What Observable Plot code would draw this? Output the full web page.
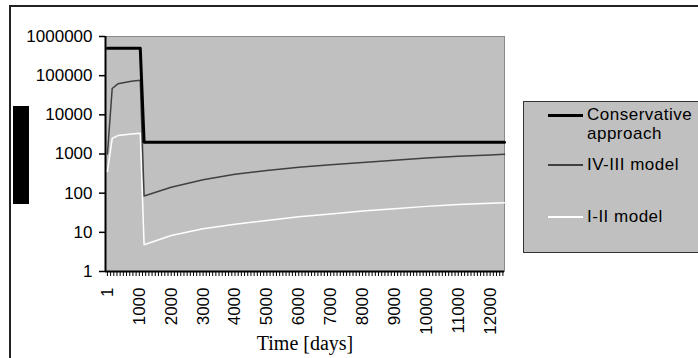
<!DOCTYPE html>
<html>
<head>
<meta charset="utf-8">
<script src="https://cdn.jsdelivr.net/npm/d3@7"></script>
<script src="https://cdn.jsdelivr.net/npm/@observablehq/plot@0.6"></script>
<style>
  html, body { margin: 0; padding: 0; background: #fff; }
  #wrap { position: relative; width: 698px; height: 358px; overflow: hidden; font-family: "Liberation Sans", Arial, sans-serif; }
  #wrap svg { position: absolute; left: 0; top: 0; }
  .border { position: absolute; left: 9px; top: 5px; width: 800px; height: 500px; border-left: 2px solid #222; border-top: 2px solid #222; }
  .blk { position: absolute; left: 13px; top: 106px; width: 16px; height: 98px; background: #000; }
  .legend { position: absolute; left: 523px; top: 101px; width: 300px; height: 152px; background: #c0c0c0; border: 1.5px solid #333; box-sizing: border-box; }
  .lg-line { position: absolute; left: 548px; width: 35px; }
  .lg-text { position: absolute; left: 587px; font-size: 17px; line-height: 19px; color: #000; white-space: nowrap; letter-spacing: 0.5px; }
</style>
</head>
<body>
<div id="wrap">
  <div class="border"></div>
  <div class="blk"></div>
  <div class="legend"></div>
  <div class="lg-line" style="top:114px;height:3px;background:#000"></div>
  <div class="lg-text" style="top:105px">Conservative<br>approach</div>
  <div class="lg-line" style="top:164px;height:1.5px;background:#404040"></div>
  <div class="lg-text" style="top:155px">IV-III model</div>
  <div class="lg-line" style="top:216px;height:1.5px;background:#fff"></div>
  <div class="lg-text" style="top:207px">I-II model</div>
</div>
<script>
const seriesNames = ["Conservative approach", "IV-III model", "I-II model"];
const consDays = [1, 1030, 1150, 12450];
const consValues = [500000, 500000, 2000, 2000];
const modelDays = [1, 150, 330, 750, 1030, 1150, 2000, 3000, 4000, 5000, 6000, 7000, 8000, 9000, 10000, 11000, 12000, 12450];
const ivIIIValues = [1000, 47000, 62000, 72000, 76000, 85, 142, 220, 305, 380, 460, 530, 610, 690, 790, 870, 940, 980];
const iIIValues = [360, 2500, 2950, 3250, 3400, 4.8, 8.3, 12.3, 16, 20, 25, 29.5, 35, 40, 46, 51, 55, 57];
const xTickValues = [1, 1000, 2000, 3000, 4000, 5000, 6000, 7000, 8000, 9000, 10000, 11000, 12000];
const yTickValues = [1, 10, 100, 1000, 10000, 100000, 1000000];
const xLabel = "Time [days]";

const cons = consDays.map((d, i) => ({day: d, value: consValues[i]}));
const ivIII = modelDays.map((d, i) => ({day: d, value: ivIIIValues[i]}));
const iII = modelDays.map((d, i) => ({day: d, value: iIIValues[i]}));
const minorTicks = d3.range(0, 12500, 100);

const chart = Plot.plot({
  width: 698,
  height: 358,
  marginLeft: 105,
  marginRight: 194,
  marginTop: 36,
  marginBottom: 87,
  style: {fontFamily: '"Liberation Sans", Arial, sans-serif', fontSize: "17px", background: "transparent", overflow: "visible", color: "#000"},
  x: {domain: [-60, 12450]},
  y: {type: "log", domain: [1, 1000000]},
  marks: [
    Plot.frame({fill: "#c0c0c0", stroke: "#8a8a8a"}),
    Plot.axisY(yTickValues, {tickSize: 6, tickPadding: 7, tickFormat: d => String(d), stroke: "#000", strokeWidth: 1.5, label: null, fontSize: 17}),
    Plot.axisX(minorTicks, {tickSize: 5, tickFormat: () => "", stroke: "#000", label: null}),
    Plot.axisX(xTickValues, {tickSize: 0, tickPadding: 16, tickRotate: -90, textAnchor: "end", lineAnchor: "middle", tickFormat: d => String(d), label: null, fontSize: 17}),
    Plot.ruleX([-60], {stroke: "#000", strokeWidth: 2}),
    Plot.ruleY([1], {stroke: "#000", strokeWidth: 2}),
    Plot.line(iII, {x: "day", y: "value", stroke: "#ffffff", strokeWidth: 1.5}),
    Plot.line(ivIII, {x: "day", y: "value", stroke: "#404040", strokeWidth: 1.5}),
    Plot.line(cons, {x: "day", y: "value", stroke: "#000", strokeWidth: 3}),
    Plot.text([xLabel], {frameAnchor: "bottom", lineAnchor: "bottom", dy: 78, fontFamily: '"Liberation Serif", "Times New Roman", serif', fontSize: 20, fill: "#000"})
  ]
});
document.getElementById("wrap").appendChild(chart);
</script>
</body>
</html>
